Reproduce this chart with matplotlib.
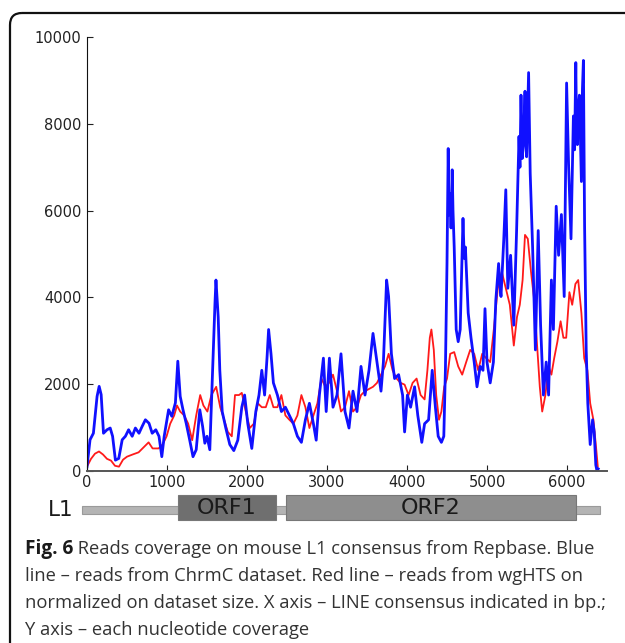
import matplotlib
matplotlib.use("Agg")
import matplotlib.pyplot as plt
from matplotlib.patches import FancyBboxPatch, Rectangle

# ChrmC coverage (blue)
blue_x = [0, 38, 80, 126, 152, 177, 206, 250, 290, 320, 355, 397, 440, 480, 520, 565,
          605, 650, 690, 730, 775, 815, 860, 900, 935, 965, 1020, 1060, 1105, 1135, 1165,
          1200, 1240, 1283, 1325, 1365, 1410, 1445, 1473, 1500, 1535, 1570, 1600, 1612,
          1640, 1660, 1690, 1735, 1785, 1835, 1885, 1935, 1970, 2010, 2060, 2110, 2150,
          2185, 2220, 2250, 2270, 2300, 2330, 2380, 2430, 2480, 2530, 2580, 2630, 2680,
          2730, 2780, 2830, 2865, 2905, 2955, 2990, 3030, 3075, 3125, 3175, 3225, 3275,
          3325, 3375, 3425, 3475, 3525, 3575, 3625, 3675, 3705, 3745, 3770, 3805, 3845,
          3895, 3945, 3970, 4005, 4045, 4095, 4135, 4185, 4220, 4270, 4315, 4355, 4390,
          4430, 4460, 4480, 4500, 4515, 4525, 4540, 4550, 4565, 4575, 4590, 4615, 4640,
          4665, 4700, 4715, 4730, 4765, 4800, 4840, 4875, 4915, 4950, 4975, 5000, 5040,
          5080, 5110, 5145, 5160, 5175, 5210, 5235, 5260, 5295, 5335, 5370, 5400, 5412,
          5425, 5440, 5455, 5465, 5475, 5485, 5495, 5508, 5520, 5540, 5570, 5605, 5640,
          5670, 5705, 5740, 5770, 5805, 5830, 5865, 5895, 5930, 5965, 5995, 6020, 6050,
          6080, 6095, 6110, 6120, 6130, 6143, 6155, 6168, 6180, 6193, 6205, 6220, 6240,
          6260, 6290, 6320, 6340, 6360, 6375, 6390]
blue_y = [100, 720, 870, 1720, 1950, 1760, 870, 950, 990, 800, 250, 290, 720, 800, 950, 800,
          990, 870, 1030, 1180, 1100, 870, 950, 800, 330, 800, 1410, 1260, 1570, 2530, 1720,
          1410, 1100, 720, 330, 490, 1410, 1030, 640, 800, 490, 2340, 3880, 4400,
          3550, 2320, 1370, 990, 610, 470, 710, 1470, 1750, 1090, 520, 1370, 1750,
          2320, 1750, 2600, 3260, 2700, 2030, 1750, 1370, 1470, 1280, 1090, 800, 660,
          1180, 1560, 1090, 710, 1750, 2600, 1370, 2600, 1470, 1750, 2700, 1370, 990,
          1840, 1370, 2410, 1750, 2320, 3170, 2510, 1840, 2510, 4400, 4020, 2700, 2130,
          2220, 1750, 900, 1750, 1470, 1940, 1280, 660, 1090, 1180, 2320, 1470, 800,
          660, 800, 2320, 4780, 7430, 5900, 6390, 5600, 6940, 6000, 5160, 3260, 2980,
          3260, 5820, 4900, 5160, 3640, 3070, 2510, 1940, 2410, 2320, 3740, 2510, 2030,
          2510, 3930, 4780, 4300, 4020, 5350, 6480, 4210, 4970, 3360, 5540, 7710, 7000,
          8660, 7200, 7520, 8100, 8750, 7600, 7240, 8200, 9180, 6860, 5160, 2790, 5540,
          3360, 1750, 2510, 1750, 4400, 3260, 6100, 4970, 5910, 4020, 8940, 7050, 5350,
          8180, 7400, 9410, 7800, 7520, 8400, 8660, 7600, 6670, 8800, 9460, 5630, 2790,
          1560, 610, 1180, 900, 140, 0, 50]

# wgHTS coverage (red), normalized
red_x = [0, 50, 100, 150, 200, 250, 300, 350, 400, 450, 500, 570, 645, 720, 770, 820,
         895, 945, 995, 1040, 1090, 1125, 1165, 1215, 1265, 1315, 1365, 1415, 1455, 1505,
         1555, 1615, 1665, 1715, 1760, 1810, 1850, 1900, 1935, 1985, 2035, 2085, 2135,
         2185, 2235, 2285, 2330, 2380, 2430, 2480, 2530, 2580, 2630, 2680, 2730, 2780,
         2830, 2880, 2930, 2980, 3025, 3075, 3125, 3175, 3225, 3275, 3325, 3375, 3425,
         3475, 3525, 3575, 3625, 3675, 3725, 3770, 3820, 3870, 3920, 3970, 4020, 4070,
         4120, 4170, 4220, 4255, 4285, 4305, 4335, 4365, 4400, 4430, 4465, 4500, 4540,
         4590, 4640, 4690, 4740, 4790, 4840, 4890, 4940, 4990, 5040, 5085, 5135, 5185,
         5235, 5285, 5335, 5375, 5410, 5445, 5475, 5510, 5550, 5585, 5620, 5660, 5690,
         5730, 5770, 5805, 5840, 5880, 5920, 5955, 5990, 6030, 6065, 6105, 6140, 6180,
         6215, 6255, 6290, 6330, 6360, 6385]
red_y = [100, 280, 400, 450, 380, 280, 240, 120, 100, 260, 330, 380, 430, 570, 660, 520,
         520, 610, 800, 1090, 1280, 1510, 1370, 1280, 1090, 710, 1280, 1750, 1510, 1370,
         1750, 1940, 1470, 1180, 900, 800, 1750, 1750, 1800, 1370, 990, 1090, 1560,
         1470, 1470, 1750, 1470, 1470, 1750, 1280, 1180, 1090, 1280, 1750, 1470, 990,
         1280, 1560, 2130, 1940, 2030, 2220, 1840, 1370, 1470, 1840, 1370, 1470, 1750,
         1840, 1890, 1940, 2030, 2220, 2410, 2700, 2320, 2130, 2030, 1990, 1750, 2030,
         2130, 1750, 1650, 2320, 3070, 3260, 2790, 1750, 1180, 1370, 1940, 2130, 2700,
         2740, 2410, 2220, 2510, 2790, 2700, 2320, 2700, 2600, 2510, 3260, 4210, 4590,
         4210, 3830, 2890, 3550, 3830, 4400, 5440, 5350, 4590, 4020, 3070, 1940, 1370,
         1750, 2410, 2220, 2600, 2980, 3450, 3070, 3070, 4120, 3830, 4310, 4400, 3640,
         2600, 2320, 1560, 1180, 610, 100]

# L1 element map (bp)
l1_start, l1_end = -60, 6410
orf_names = ["ORF1", "ORF2"]
orf_start = [1140, 2490]
orf_end = [2360, 6110]
orf_colors = ["#6f6f6f", "#8e8e8e"]

caption_bold = "Fig. 6"
caption_lines = [
    " Reads coverage on mouse L1 consensus from Repbase. Blue",
    "line \u2013 reads from ChrmC dataset. Red line \u2013 reads from wgHTS on",
    "normalized on dataset size. X axis \u2013 LINE consensus indicated in bp.;",
    "Y axis \u2013 each nucleotide coverage",
]

W, H = 625, 643
fig = plt.figure(figsize=(W / 100, H / 100), dpi=100)

# page frame with rounded corner
bg = fig.add_axes([0, 0, 1, 1])
bg.set_xlim(0, W)
bg.set_ylim(H, 0)
bg.axis("off")
bg.add_patch(FancyBboxPatch((10, 13), 700, 700, boxstyle="round,pad=0,rounding_size=12",
                            fill=False, ec="#111111", lw=1.6, clip_on=False))

# main coverage plot
ax = fig.add_axes([87 / W, 1 - 471 / H, 520 / W, 434 / H])
ax.plot(red_x, red_y, color="#ff1a1a", lw=1.3)
ax.plot(blue_x, blue_y, color="#1010ff", lw=2.0)
ax.set_xlim(0, 6500)
ax.set_ylim(0, 10000)
ax.set_xticks([0, 1000, 2000, 3000, 4000, 5000, 6000])
ax.set_yticks([0, 2000, 4000, 6000, 8000, 10000])
ax.spines["top"].set_visible(False)
ax.spines["right"].set_visible(False)
ax.spines["left"].set_color("#111111")
ax.spines["bottom"].set_color("#555555")
ax.spines["bottom"].set_linewidth(1.4)
ax.tick_params(direction="in", length=4, labelsize=10.5, colors="#222222", pad=4)
ax.tick_params(axis="x", pad=3)

# L1 map below the x axis
ax2 = fig.add_axes([87 / W, 1 - 520 / H, 520 / W, 25 / H], sharex=ax)
ax2.set_ylim(0, 1)
ax2.axis("off")
ax2.add_patch(Rectangle((l1_start, 0.26), l1_end - l1_start, 0.32,
                        fc="#b4b4b4", ec="#9a9a9a", lw=0.8, clip_on=False))
for name, s, e, c in zip(orf_names, orf_start, orf_end, orf_colors):
    ax2.add_patch(Rectangle((s, 0), e - s, 1, fc=c, ec="#777777", lw=0.8, clip_on=False))
    ax2.text((s + e) / 2, 0.5, name, ha="center", va="center", fontsize=16,
             color="#1a1a1a", clip_on=False)
ax2.text(-170, 0.42, "L1", ha="right", va="center", fontsize=15.5, color="#1a1a1a")

# caption
cap_font = "Open Sans"
cap_size = 13.2
x0, y0, dy = 25, 549, 26.9
t = bg.text(x0, y0, caption_bold, fontsize=cap_size + 0.5, fontweight="bold", family=cap_font,
            color="#1a1a1a", va="center", ha="left")
fig.canvas.draw()
bb = t.get_window_extent()
x_rest = x0 + bb.width * W / fig.bbox.width
bg.text(x_rest, y0, caption_lines[0], fontsize=cap_size, family=cap_font, color="#333333",
        va="center", ha="left")
for i, line in enumerate(caption_lines[1:], start=1):
    bg.text(x0, y0 + i * dy, line, fontsize=cap_size, family=cap_font, color="#333333",
            va="center", ha="left")

fig.savefig("out.png", dpi=100)
